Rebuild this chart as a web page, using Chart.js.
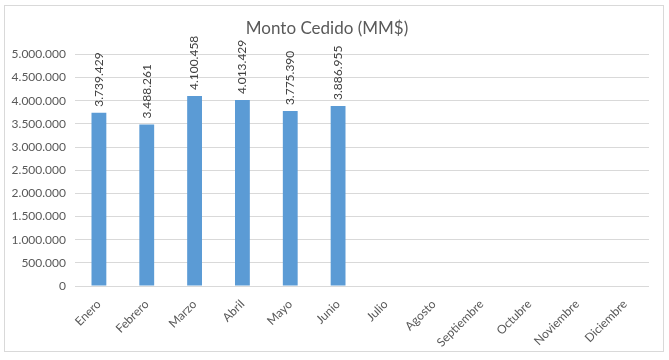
<!DOCTYPE html>
<html>
<head>
<meta charset="utf-8">
<script src="https://cdn.jsdelivr.net/npm/chart.js@4"></script>
<style>
    body { margin: 0; background: #fff; }
    #frame { position: absolute; left: 4px; top: 5px; width: 658px; height: 345px; border: 1px solid #d9d9d9; }
    canvas { display: block; }
</style>
</head>
<body>
<div id="frame"><canvas id="chart" width="658" height="345"></canvas></div>
<script>
const months = ['Enero', 'Febrero', 'Marzo', 'Abril', 'Mayo', 'Junio', 'Julio', 'Agosto', 'Septiembre', 'Octubre', 'Noviembre', 'Diciembre'];
const montoCedido = [3739429, 3488261, 4100458, 4013429, 3775390, 3886955, null, null, null, null, null, null];
const chartTitle = 'Monto Cedido (MM$)';

function formatNumber(n) {
    return String(Math.round(n)).replace(/\B(?=(\d{3})+(?!\d))/g, '.');
}

// vertical value labels above each bar
const barLabels = {
    id: 'barLabels',
    afterDatasetsDraw(chart) {
        const ctx = chart.ctx;
        const meta = chart.getDatasetMeta(0);
        ctx.save();
        ctx.font = '12px Lato';
        ctx.fillStyle = '#404040';
        ctx.textAlign = 'left';
        ctx.textBaseline = 'middle';
        meta.data.forEach((bar, i) => {
            const v = montoCedido[i];
            if (v === null) return;
            ctx.save();
            ctx.translate(bar.x, bar.y - 6);
            ctx.rotate(-Math.PI / 2);
            ctx.fillText(formatNumber(v), 0, 0);
            ctx.restore();
        });
        ctx.restore();
    }
};

new Chart(document.getElementById('chart'), {
    type: 'bar',
    data: {
        labels: months,
        datasets: [{
            data: montoCedido,
            backgroundColor: '#5b9bd5',
            barPercentage: 0.31,
            categoryPercentage: 1
        }]
    },
    options: {
        responsive: false,
        animation: false,
        layout: { padding: { left: 0, right: 14, top: 0, bottom: 0 } },
        plugins: {
            legend: { display: false },
            tooltip: { enabled: false },
            title: {
                display: true,
                text: chartTitle,
                color: '#595959',
                font: { family: 'Lato', size: 17, weight: 'normal' },
                padding: { top: 12, bottom: 16 }
            }
        },
        scales: {
            x: {
                grid: { display: false },
                border: { display: false },
                ticks: {
                    color: '#595959',
                    font: { family: 'Lato', size: 12 },
                    minRotation: 45,
                    maxRotation: 45,
                    padding: 3
                },
                afterFit(scale) { scale.height = 65; }
            },
            y: {
                min: 0,
                max: 5000000,
                grid: { color: '#d9d9d9', drawTicks: false },
                border: { display: false },
                ticks: {
                    stepSize: 500000,
                    color: '#595959',
                    font: { family: 'Lato', size: 12 },
                    padding: 9,
                    callback: v => formatNumber(v)
                },
                afterFit(scale) { scale.width = 70; }
            }
        }
    },
    plugins: [barLabels]
});
</script>
</body>
</html>
